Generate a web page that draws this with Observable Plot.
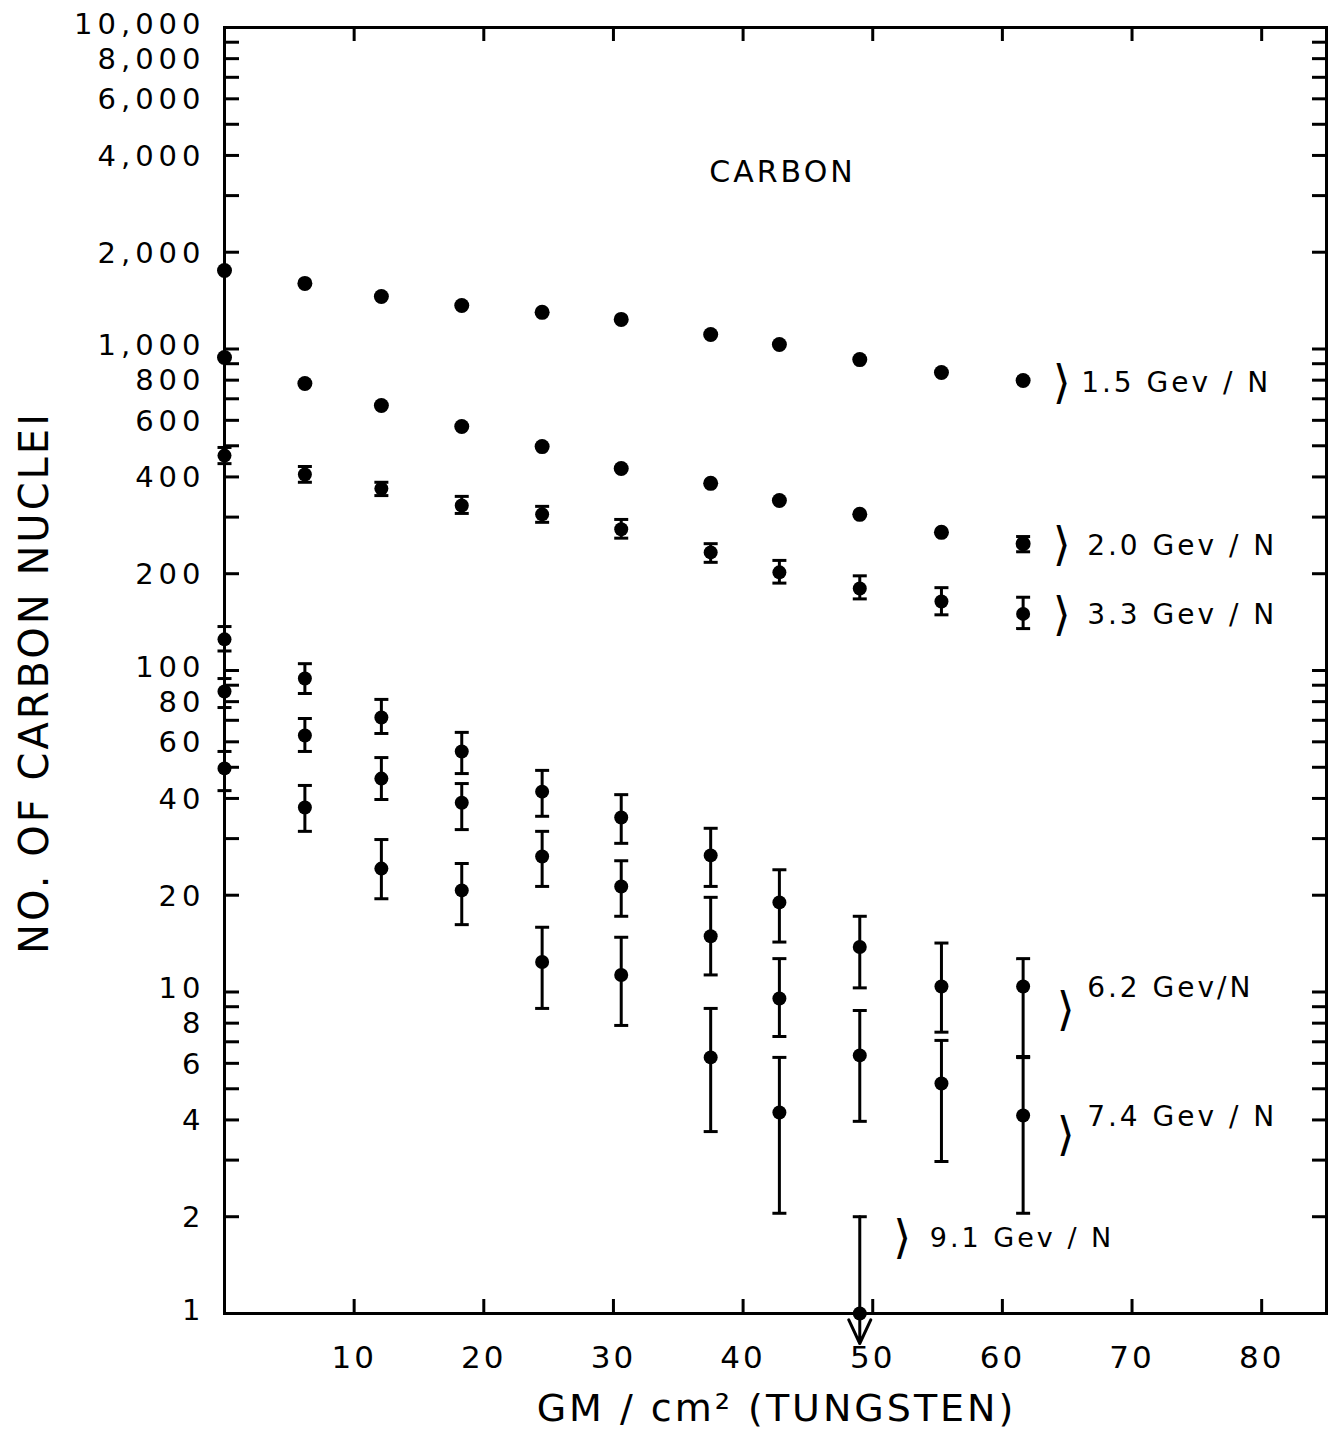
<!DOCTYPE html>
<html><head><meta charset="utf-8">
<script src="https://cdn.jsdelivr.net/npm/d3@7"></script>
<script src="https://cdn.jsdelivr.net/npm/@observablehq/plot@0.6"></script>
<style>
html,body{margin:0;padding:0;background:#fff;}
#chart svg{display:block;}
#chart svg text{letter-spacing:3px;}
#chart svg g[font-size="29"] text{letter-spacing:5px;}
</style></head><body><div id="chart"></div>
<script>
// absorber depth, GM/cm^2 of tungsten
const gm = [0, 6.2, 12.1, 18.3, 24.5, 30.6, 37.5, 42.8, 49.0, 55.3, 61.6];

// number of carbon nuclei per energy threshold
const c15 = [1755, 1600, 1457, 1365, 1300, 1236, 1110, 1033, 927, 845, 798];

const c20 = [941, 781, 667, 574, 497, 425, 382, 338, 306, 269, 248];
const c20lo = [null, null, null, null, null, null, null, null, null, null, 234];
const c20hi = [null, null, null, null, null, null, null, null, null, null, 261];

const c33 = [466, 407, 368, 326, 306, 275, 233, 202, 180, 164, 150];
const c33lo = [440, 385, 350, 308, 289, 258, 217, 187, 167, 149, 135];
const c33hi = [494, 431, 385, 348, 324, 295, 248, 220, 197, 181, 169];

const c62 = [125, 94.4, 71.4, 56.0, 42.0, 34.9, 26.6, 19.0, 13.8, 10.4, 10.4];
const c62lo = [115, 84.8, 63.7, 47.8, 35.2, 29.0, 21.3, 14.3, 10.3, 7.5, 6.25];
const c62hi = [137, 105, 81.3, 64.2, 48.9, 41.1, 32.3, 24.0, 17.2, 14.2, 12.7];

const c74 = [86.0, 62.8, 46.1, 38.8, 26.4, 21.3, 14.9, 9.55, 6.35, 5.19, 4.13];
const c74lo = [76.7, 56.0, 39.7, 32.0, 21.3, 17.2, 11.3, 7.27, 3.96, 2.97, 2.05];
const c74hi = [94.4, 70.9, 53.6, 44.5, 31.6, 25.6, 19.7, 12.7, 8.76, 7.07, 6.30];

const c91 = [49.6, 37.5, 24.2, 20.7, 12.4, 11.3, 6.26, 4.22];
const c91lo = [42.3, 31.6, 19.5, 16.2, 8.89, 7.87, 3.68, 2.05];
const c91hi = [56.0, 43.9, 29.8, 25.1, 15.9, 14.8, 8.89, 6.26];
// upper limit for 9.1 GeV/N at the 9th depth
const c91limit = {i: 8, value: 1, upper: 2};

// axis ticks
const yLabelsDecade = [1, 10, 100, 1000, 10000];
const yLabelsOther = [2, 4, 6, 8, 20, 40, 60, 80, 200, 400, 600, 800, 2000, 4000, 6000, 8000];
const yMinor = [1,2,3,4,5,6,7,8,9,10,20,30,40,50,60,70,80,90,100,200,300,400,500,600,700,800,900,
  1000,2000,3000,4000,5000,6000,7000,8000,9000,10000];
const xTicks = [10, 20, 30, 40, 50, 60, 70, 80];

const seriesNames = ["1.5 Gev / N", "2.0 Gev / N", "3.3 Gev / N", "6.2 Gev/N", "7.4 Gev / N", "9.1 Gev / N"];

function rows(name, vals, lo, hi) {
  return vals.map((v, i) => ({name, x: gm[i], y: v, lo: lo ? lo[i] : null, hi: hi ? hi[i] : null}));
}
const topRows = [...rows(seriesNames[0], c15), ...rows(seriesNames[1], c20, c20lo, c20hi)];
const lowRows = [
  ...rows(seriesNames[2], c33, c33lo, c33hi),
  ...rows(seriesNames[3], c62, c62lo, c62hi),
  ...rows(seriesNames[4], c74, c74lo, c74hi),
  ...rows(seriesNames[5], c91, c91lo, c91hi)
];
const limitRows = [{name: seriesNames[5], x: gm[c91limit.i], y: c91limit.value, hi: c91limit.upper}];
const allRows = [...topRows, ...lowRows];
const bars = allRows.filter(d => d.lo != null && d.hi != null);
const caps = bars.flatMap(d => [{x: d.x, y: d.lo}, {x: d.x, y: d.hi}]).concat(limitRows.map(d => ({x: d.x, y: d.hi})));

// label anchors: last point of each series
const lastOf = name => {
  const all = allRows.filter(d => d.name === name);
  return all[all.length - 1];
};
const labelLayout = [
  {name: seriesNames[0], bdx: 40, bdy: 3, tdx: 58, tdy: 3},
  {name: seriesNames[1], bdx: 40, bdy: 2, tdx: 64, tdy: 2},
  {name: seriesNames[2], bdx: 40, bdy: 1, tdx: 64, tdy: 1},
  {name: seriesNames[3], bdx: 44, bdy: 24, tdx: 64, tdy: 2},
  {name: seriesNames[4], bdx: 44, bdy: 20, tdx: 64, tdy: 2}
];

const hLine = {draw(ctx, size) { const r = Math.sqrt(size / Math.PI); ctx.moveTo(-r, 0); ctx.lineTo(r, 0); }};

const W = 1335, H = 1431, ML = 224, MR = 9, MT = 27, MB = 118;
const FW = W - ML - MR, FH = H - MT - MB;

const bracket = (data, x, y, dx, dy) =>
  Plot.text(data, {x, y, text: () => "\u27E9", dx, dy, fontSize: 46, textAnchor: "middle", lineAnchor: "middle"});

const labelMarks = labelLayout.flatMap(L => {
  const p = lastOf(L.name);
  return [
    bracket([p], "x", "y", L.bdx, L.bdy),
    Plot.text([p], {x: "x", y: "y", text: "name", dx: L.tdx, dy: L.tdy, fontSize: 28, textAnchor: "start", lineAnchor: "middle"})
  ];
});

const chart = Plot.plot({
  width: W, height: H,
  marginLeft: ML, marginRight: MR, marginTop: MT, marginBottom: MB,
  style: {fontFamily: "DejaVu Sans", color: "black", background: "white", overflow: "visible"},
  x: {domain: [0, 85], axis: null},
  y: {type: "log", domain: [1, 10000], axis: null},
  marks: [
    Plot.frame({stroke: "black", strokeWidth: 3}),
    Plot.tickY(yMinor, {y: d => d, insetRight: FW - 15, strokeWidth: 3}),
    Plot.tickY(yMinor, {y: d => d, insetLeft: FW - 14, strokeWidth: 3}),
    Plot.tickX(xTicks, {x: d => d, insetTop: FH - 14, strokeWidth: 3}),
    Plot.tickX(xTicks, {x: d => d, insetBottom: FH - 14, strokeWidth: 3}),
    // y tick labels (decades nudged up, others nudged down, as in the original lettering)
    Plot.text(yLabelsDecade, {y: d => d, text: d3.format(","), frameAnchor: "left", dx: -19, dy: -3, fontSize: 29, textAnchor: "end", lineAnchor: "middle"}),
    Plot.text(yLabelsOther, {y: d => d, text: d3.format(","), frameAnchor: "left", dx: -19, dy: 1, fontSize: 29, textAnchor: "end", lineAnchor: "middle"}),
    // x tick labels
    Plot.text(xTicks, {x: d => d, text: d => String(d), frameAnchor: "bottom", dy: 45, fontSize: 31, textAnchor: "middle", lineAnchor: "middle"}),
    Plot.ruleX(bars, {x: "x", y1: "lo", y2: "hi", strokeWidth: 3}),
    Plot.dot(caps, {x: "x", y: "y", symbol: hLine, r: 7, stroke: "black", strokeWidth: 3, fill: "none"}),
    Plot.arrow(limitRows, {x: "x", y1: "hi", y2: "y", insetEnd: -30, headLength: 13, headAngle: 50, strokeWidth: 3, stroke: "black"}),
    Plot.dot(topRows, {x: "x", y: "y", r: 7.5, fill: "black"}),
    Plot.dot(lowRows, {x: "x", y: "y", r: 7, fill: "black"}),
    Plot.dot(limitRows, {x: "x", y: "y", r: 7, fill: "black"}),
    ...labelMarks,
    bracket(limitRows, "x", "hi", 44, 22),
    Plot.text(limitRows, {x: "x", y: "hi", text: "name", dx: 70, dy: 22, fontSize: 27, textAnchor: "start", lineAnchor: "middle"}),
    Plot.text(["CARBON"], {text: d => d, frameAnchor: "top", dx: 7, dy: 145, fontSize: 30, textAnchor: "middle", lineAnchor: "middle"}),
    Plot.text(["NO. OF CARBON NUCLEI"], {text: d => d, frameAnchor: "left", rotate: -90, dx: -189, dy: 12, fontSize: 40, textAnchor: "middle", lineAnchor: "middle"}),
    Plot.text(["GM / cm\u00B2 (TUNGSTEN)"], {text: d => d, frameAnchor: "bottom", dx: 1, dy: 95, fontSize: 38, textAnchor: "middle", lineAnchor: "middle"})
  ]
});
document.getElementById("chart").append(chart);
</script></body></html>
